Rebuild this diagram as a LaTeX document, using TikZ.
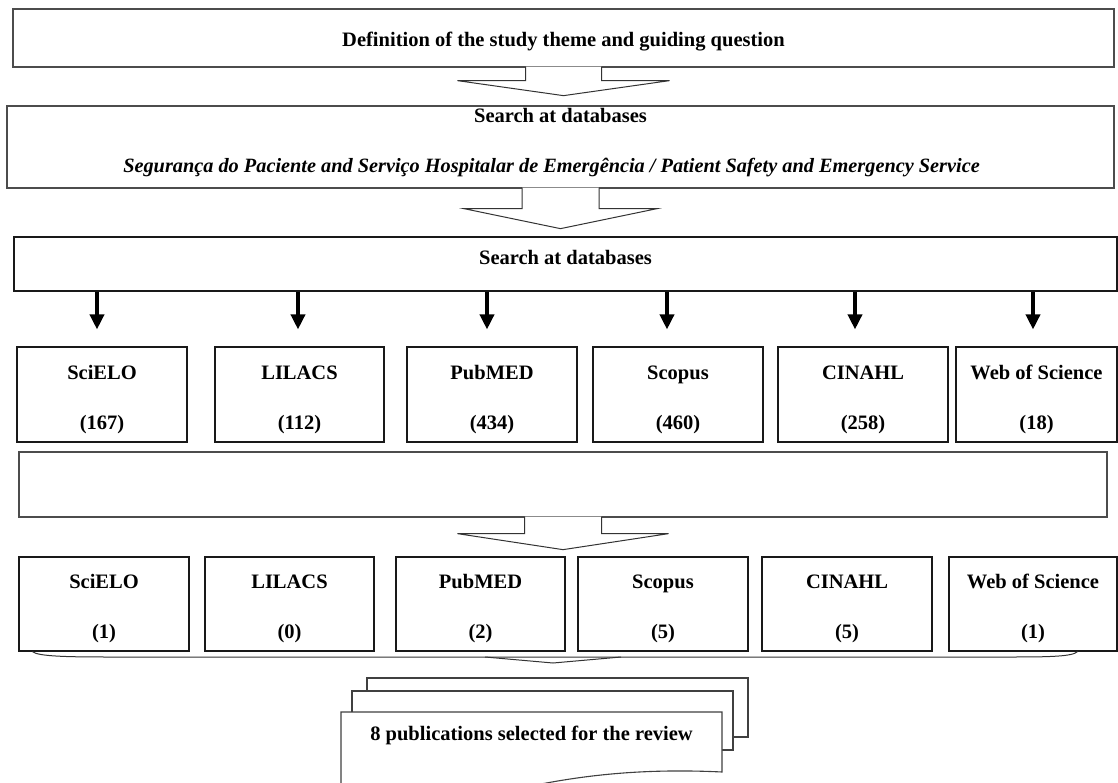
\documentclass[tikz,border=0pt]{standalone}
\usepackage{fontspec}
\setmainfont{Liberation Serif}
\usetikzlibrary{arrows.meta,calc}

\newcommand{\dbtext}[2]{\rule{0pt}{24pt}#1\\[26pt]#2\rule[-5pt]{0pt}{5pt}}

\tikzset{
  frame/.style={draw=black!70, line width=1.3pt, rectangle, inner sep=0pt},
  dbbox/.style={draw=black!90, line width=1.1pt, rectangle, inner sep=0pt, align=center, font=\fontsize{20.5}{24}\selectfont\bfseries},
  lbl/.style={inner sep=0pt, font=\fontsize{20.5}{24}\selectfont\bfseries},
  hollow/.style={draw=black!80, fill=white, line width=1pt, line join=miter},
  dbarrow/.style={line width=3.5pt, -{Triangle[width=14pt,length=15pt]}, shorten >=17pt},
  brace/.style={draw=black!80, line width=1pt},
  doc/.style={draw=black!75, fill=white, line width=1.1pt}
}

\begin{document}
\begin{tikzpicture}[x=1pt,y=-1pt]
\useasboundingbox (0,0) rectangle (1118,783);
% top boxes
\node[frame, minimum width=1101pt, minimum height=58pt] (def) at (563.5,38) {};
\node[lbl] (defa) at ($(def.north)+(0,33.5)$) {Definition of the study theme and guiding question};
\node[frame, minimum width=1107pt, minimum height=82pt] (srch1) at (560.5,147) {};
\node[lbl] (srch1a) at ($(srch1.north)+(0,10)$) {Search at databases};
\node[lbl, font=\fontsize{20.3}{24}\selectfont\bfseries\itshape] (srch1b) at ($(srch1.south)+(-9,-21)$) {Segurança do Paciente and Serviço Hospitalar de Emergência / Patient Safety and Emergency Service};
\node[draw=black!90, line width=1.1pt, inner sep=0pt, minimum width=1103pt, minimum height=54pt] (srch2) at (565.5,264) {};
\node[lbl] (srch2a) at ($(srch2.north)+(0,21)$) {Search at databases};
% first row of databases
\node[dbbox, minimum width=170pt, minimum height=95pt] (sci1) at (102,394.5) {\dbtext{SciELO}{(167)}};
\node[dbbox, minimum width=169pt, minimum height=95pt] (lil1) at (299.5,394.5) {\dbtext{LILACS}{(112)}};
\node[dbbox, minimum width=170pt, minimum height=95pt] (pub1) at (492,394.5) {\dbtext{PubMED}{(434)}};
\node[dbbox, minimum width=170pt, minimum height=95pt] (sco1) at (678,394.5) {\dbtext{Scopus}{(460)}};
\node[dbbox, minimum width=170pt, minimum height=95pt] (cin1) at (863,394.5) {\dbtext{CINAHL}{(258)}};
\node[dbbox, minimum width=161pt, minimum height=95pt] (wos1) at (1036.5,394.5) {\dbtext{Web of Science}{(18)}};
\draw[dbarrow] ([xshift=-5pt]sci1.north |- srch2.south) -- ([xshift=-5pt]sci1.north);
\draw[dbarrow] ([xshift=-1.5pt]lil1.north |- srch2.south) -- ([xshift=-1.5pt]lil1.north);
\draw[dbarrow] ([xshift=-5pt]pub1.north |- srch2.south) -- ([xshift=-5pt]pub1.north);
\draw[dbarrow] ([xshift=-11pt]sco1.north |- srch2.south) -- ([xshift=-11pt]sco1.north);
\draw[dbarrow] ([xshift=-8pt]cin1.north |- srch2.south) -- ([xshift=-8pt]cin1.north);
\draw[dbarrow] ([xshift=-3.5pt]wos1.north |- srch2.south) -- ([xshift=-3.5pt]wos1.north);
% empty box
\node[frame, minimum width=1088pt, minimum height=65pt] (scr) at (563,484.5) {};
% second row of databases
\node[dbbox, minimum width=170pt, minimum height=94pt] (sci2) at (104,604) {\dbtext{SciELO}{(1)}};
\node[dbbox, minimum width=169pt, minimum height=94pt] (lil2) at (289.5,604) {\dbtext{LILACS}{(0)}};
\node[dbbox, minimum width=169pt, minimum height=94pt] (pub2) at (480.5,604) {\dbtext{PubMED}{(2)}};
\node[dbbox, minimum width=170pt, minimum height=94pt] (sco2) at (663,604) {\dbtext{Scopus}{(5)}};
\node[dbbox, minimum width=170pt, minimum height=94pt] (cin2) at (847,604) {\dbtext{CINAHL}{(5)}};
\node[dbbox, minimum width=168pt, minimum height=94pt] (wos2) at (1033,604) {\dbtext{Web of Science}{(1)}};
% hollow arrows
\path[hollow] ($(def.south)+(-38,-1)$) -- ++(0,14) -- ++(-68,0) -- ++(106,15) -- ++(106,-15) -- ++(-68,0) -- ++(0,-14);
\path[hollow] ($(srch1.south)+(-38.5,-1)$) -- ++(0,21) -- ++(-58,0) -- ++(96.5,20) -- ++(96.5,-20) -- ++(-58,0) -- ++(0,-21);
\path[hollow] ($(scr.south)+(-38.5,-1)$) -- ++(0,17) -- ++(-67,0) -- ++(105.5,16) -- ++(105.5,-16) -- ++(-67,0) -- ++(0,-17);
% brace under second row
\draw[brace] ($(sci2.south west)+(14,0)$) .. controls +(5,5) and +(-40,0) .. (110,657) -- (1010,657) .. controls +(40,0) and +(-5,5) .. ($(wos2.south east)+(-40,0)$);
\draw[brace] (485,657) -- (553,663) -- (621,657);
% stack of documents
\filldraw[doc] (367,678) rectangle (748,737);
\filldraw[doc] (352,691) rectangle (733,750);
\filldraw[doc] (341,712) -- (722,712) -- (722,772) .. controls (640,768) and (580,776) .. (531,786) .. controls (470,798) and (400,800) .. (341,792) -- cycle;
\node[lbl] (pubs) at (531.5,735) {8 publications selected for the review};
\end{tikzpicture}
\end{document}
